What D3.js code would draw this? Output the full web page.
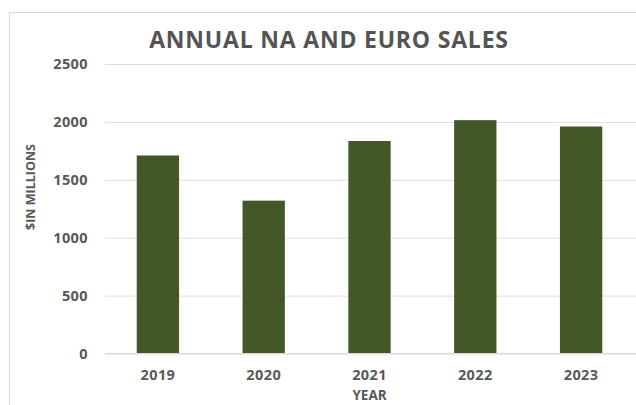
<!DOCTYPE html>
<html>
<head>
<meta charset="utf-8">
<script src="https://cdn.jsdelivr.net/npm/d3@7"></script>
<style>
  html, body { margin: 0; padding: 0; background: #fff; }
  svg { display: block; }
  text { font-family: "Open Sans", "Noto Sans", sans-serif; font-weight: 700; }
</style>
</head>
<body>
<svg id="chart" width="636" height="405"></svg>
<script>
const years = ["2019", "2020", "2021", "2022", "2023"];
const sales = [1710, 1320, 1835, 2015, 1960];
const yTicks = [0, 500, 1000, 1500, 2000, 2500];
const title = "ANNUAL NA AND EURO SALES";
const xTitle = "YEAR";
const yTitle = "$IN MILLIONS";

const svg = d3.select("#chart");
const W = 636, H = 405;
const plot = { left: 105, right: 634, top: 64, bottom: 353.5 };

// chart frame
svg.append("rect")
  .attr("x", 9.5).attr("y", 12.5)
  .attr("width", W + 10).attr("height", H + 10)
  .attr("fill", "#fff").attr("stroke", "#d9d9d9").attr("stroke-width", 1);

const x = d3.scaleBand().domain(years).range([plot.left, plot.right]).paddingInner(0.6).paddingOuter(0.3);
const y = d3.scaleLinear().domain([0, 2500]).range([plot.bottom, plot.top]);

// gridlines + y labels
const yAxis = d3.axisLeft(y).tickValues(yTicks).tickSize(-(plot.right + 10 - plot.left)).tickPadding(17).tickFormat(d3.format("d"));
const gy = svg.append("g").attr("transform", `translate(${plot.left},0)`).call(yAxis);
gy.select(".domain").remove();
gy.selectAll(".tick line").attr("stroke", "#dedede").attr("stroke-width", 1);
gy.selectAll(".tick text").attr("fill", "#595959").attr("font-size", 14.5).attr("letter-spacing", 0.4)
  .attr("font-family", "Open Sans").attr("font-weight", 700);

// bars
svg.append("g").selectAll("rect").data(years).join("rect")
  .attr("x", d => x(d))
  .attr("y", (d, i) => y(sales[i]))
  .attr("width", x.bandwidth())
  .attr("height", (d, i) => y(0) - y(sales[i]))
  .attr("fill", "#435826");

// x axis
const xAxis = d3.axisBottom(x).tickSize(0).tickPadding(16);
const gx = svg.append("g").attr("transform", `translate(0,${plot.bottom})`).call(xAxis);
gx.select(".domain").attr("d", `M0,0H${plot.right + 10 - plot.left}`).attr("transform", `translate(${plot.left},0)`).attr("stroke", "#d9d9d9");
gx.selectAll(".tick text").attr("fill", "#595959").attr("font-size", 14.5).attr("letter-spacing", 0.4)
  .attr("font-family", "Open Sans").attr("font-weight", 700);

// titles
svg.append("text").attr("x", 329).attr("y", 48).attr("text-anchor", "middle")
  .attr("font-size", 23).attr("letter-spacing", 0.8).attr("fill", "#545454").text(title);
svg.append("text").attr("x", (plot.left + plot.right) / 2).attr("y", 400).attr("text-anchor", "middle")
  .attr("font-size", 13.5).attr("fill", "#595959").text(xTitle);
svg.append("text").attr("transform", "translate(35,187) rotate(-90)").attr("text-anchor", "middle")
  .attr("font-size", 12.5).attr("fill", "#595959").text(yTitle);
</script>
</body>
</html>
